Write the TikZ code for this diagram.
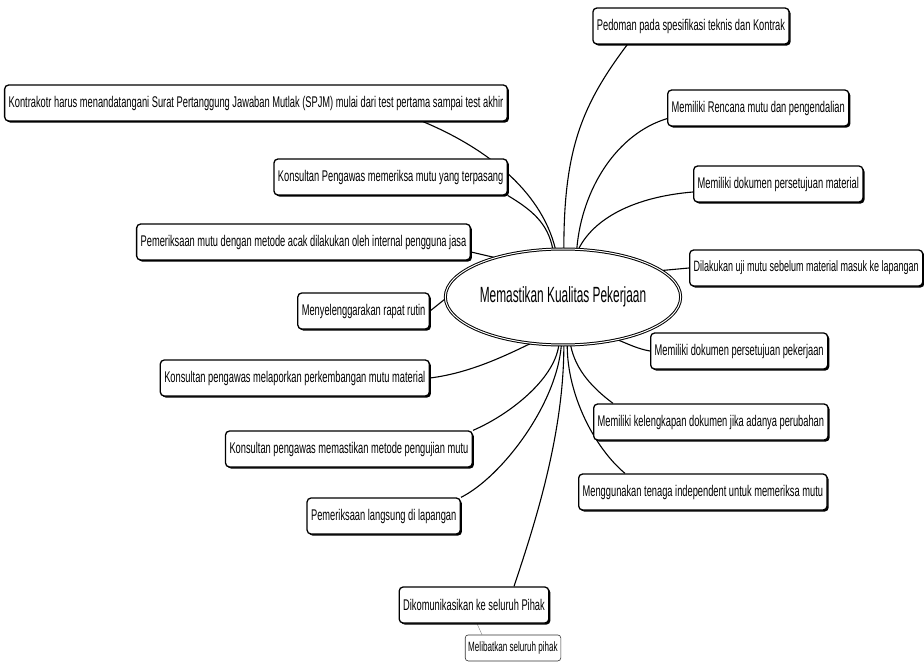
\documentclass[tikz,border=0pt]{standalone}
\usepackage{fontspec}
\setmainfont{Liberation Sans}[FakeStretch=0.6]
\newfontfamily\hubfont{Liberation Sans}[FakeStretch=0.54]
\usetikzlibrary{backgrounds}
\usetikzlibrary{positioning}
\usetikzlibrary{shapes.geometric}
\usetikzlibrary{shadows}

\tikzset{
  taskBox/.style={
    draw=black, line width=1.3pt, fill=white,
    rounded corners=4pt,
    font=\fontsize{15.5}{18}\selectfont,
    minimum height=36pt, inner xsep=4pt,
    drop shadow={shadow xshift=1.6pt, shadow yshift=-1.6pt, fill=black, opacity=1}
  },
  subBox/.style={
    draw=black!80, line width=0.6pt, fill=white,
    rounded corners=3pt,
    font=\fontsize{13.5}{15}\selectfont,
    minimum height=26pt, inner xsep=3pt
  }
}

\begin{document}
\begin{tikzpicture}[
  x=1pt, y=-1pt,
  hubNode/.style={ellipse, draw=black, line width=1pt, double=white, double distance=1pt,
    fill=white, minimum width=206pt, minimum height=96pt, inner sep=0pt,
    font=\hubfont\fontsize{22}{26}\selectfont},
  link/.style={draw=black, line width=1.1pt},
  % subLink/.style={draw=gray, thin},
]

\useasboundingbox (0,0) rectangle (924,663);

% --- centre ---
\node [hubNode] (kualitasRoot) at (563,297) {Memastikan Kualitas Pekerjaan};

% --- right side ---
\node [taskBox] (pedoman) at (691,26) {Pedoman pada spesifikasi teknis dan Kontrak};
\node [taskBox, anchor=west] (rencanaMutu) at (667,108) {Memiliki Rencana mutu dan pengendalian};
\node [taskBox, anchor=west] (dokMaterial) at (693,184) {Memiliki dokumen persetujuan material};
\node [taskBox, anchor=west, font=\fontsize{15}{18}\selectfont] (ujiMutu) at (689,268) {Dilakukan uji mutu sebelum material masuk ke lapangan};
\node [taskBox, anchor=west] (dokPekerjaan) at (650,351) {Memiliki dokumen persetujuan pekerjaan};
\node [taskBox, anchor=west] (kelengkapanDok) at (593,422) {Memiliki kelengkapan dokumen jika adanya perubahan};
\node [taskBox, anchor=west] (tenagaIndep) at (578,492) {Menggunakan tenaga independent untuk memeriksa mutu};

% --- left side ---
\node [taskBox, anchor=east] (spjm) at (508,103) {Kontrakotr harus menandatangani Surat Pertanggung Jawaban Mutlak (SPJM) mulai dari test pertama sampai test akhir};
\node [taskBox, anchor=east] (pengawasMutu) at (508,177) {Konsultan Pengawas memeriksa mutu yang terpasang};
\node [taskBox, anchor=east] (acakMutu) at (471,242) {Pemeriksaan mutu dengan metode acak dilakukan oleh internal pengguna jasa};
\node [taskBox, anchor=east] (rapatRutin) at (430,311) {Menyelenggarakan rapat rutin};
\node [taskBox, anchor=east] (laporMutu) at (430,378) {Konsultan pengawas melaporkan perkembangan mutu material};
\node [taskBox, anchor=east] (metodeUji) at (473,449) {Konsultan pengawas memastikan metode pengujian mutu};
\node [taskBox, anchor=east] (periksaLapangan) at (461,516) {Pemeriksaan langsung di lapangan};

% --- bottom ---
\node [taskBox] (komunikasi) at (474,605) {Dikomunikasikan ke seluruh Pihak};
\node [subBox, below=11pt of komunikasi, xshift=39pt] (libatkanPihak) {Melibatkan seluruh pihak};

\begin{pgfonlayer}{background}
\fill[white] (0,0) rectangle (924,663);

\draw[link] ([xshift=35pt]pedoman.south west) .. controls +(-45,60) and +(0,-100) .. (kualitasRoot.89);
\draw[link] ([xshift=-85pt]spjm.south east) .. controls +(60,25) and +(-15,-60) .. (kualitasRoot.99);
\draw[link] (pengawasMutu.south east) .. controls +(25,15) and +(-5,-25) .. (kualitasRoot.102);
\draw[link] ([yshift=8pt]rencanaMutu.south west) .. controls +(-50,15) and +(5,-60) .. (kualitasRoot.74);
\draw[link] ([yshift=-8pt]dokMaterial.west) .. controls +(-60,5) and +(15,-30) .. (kualitasRoot.72);
\draw[link] ([yshift=-10pt]acakMutu.east) -- (kualitasRoot.150);
\draw[link] (ujiMutu.west) -- (kualitasRoot.15);
\draw[link] (rapatRutin.east) -- (kualitasRoot.181);
\draw[link] (laporMutu.east) .. controls +(40,-5) and +(-25,12) .. (kualitasRoot.235);
\draw[link] (dokPekerjaan.west) .. controls +(-12,-2) and +(10,4) .. (kualitasRoot.322);
\draw[link] ([xshift=20pt]kelengkapanDok.north west) .. controls +(-20,-15) and +(5,25) .. (kualitasRoot.279);
\draw[link] ([xshift=47pt]tenagaIndep.north west) .. controls +(-30,-25) and +(0,50) .. (kualitasRoot.275);
\draw[link] (metodeUji.north east) .. controls +(35,-15) and +(-5,35) .. (kualitasRoot.265);
\draw[link] (periksaLapangan.north east) .. controls +(40,-20) and +(-5,60) .. (kualitasRoot.268);
\draw[link] ([xshift=40pt]komunikasi.north) .. controls +(20,-60) and +(0,90) .. (kualitasRoot.271);

\draw[draw=gray, thin] ([xshift=3pt]komunikasi.south) -- ([xshift=-31pt]libatkanPihak.north);
\end{pgfonlayer}

\end{tikzpicture}
\end{document}
